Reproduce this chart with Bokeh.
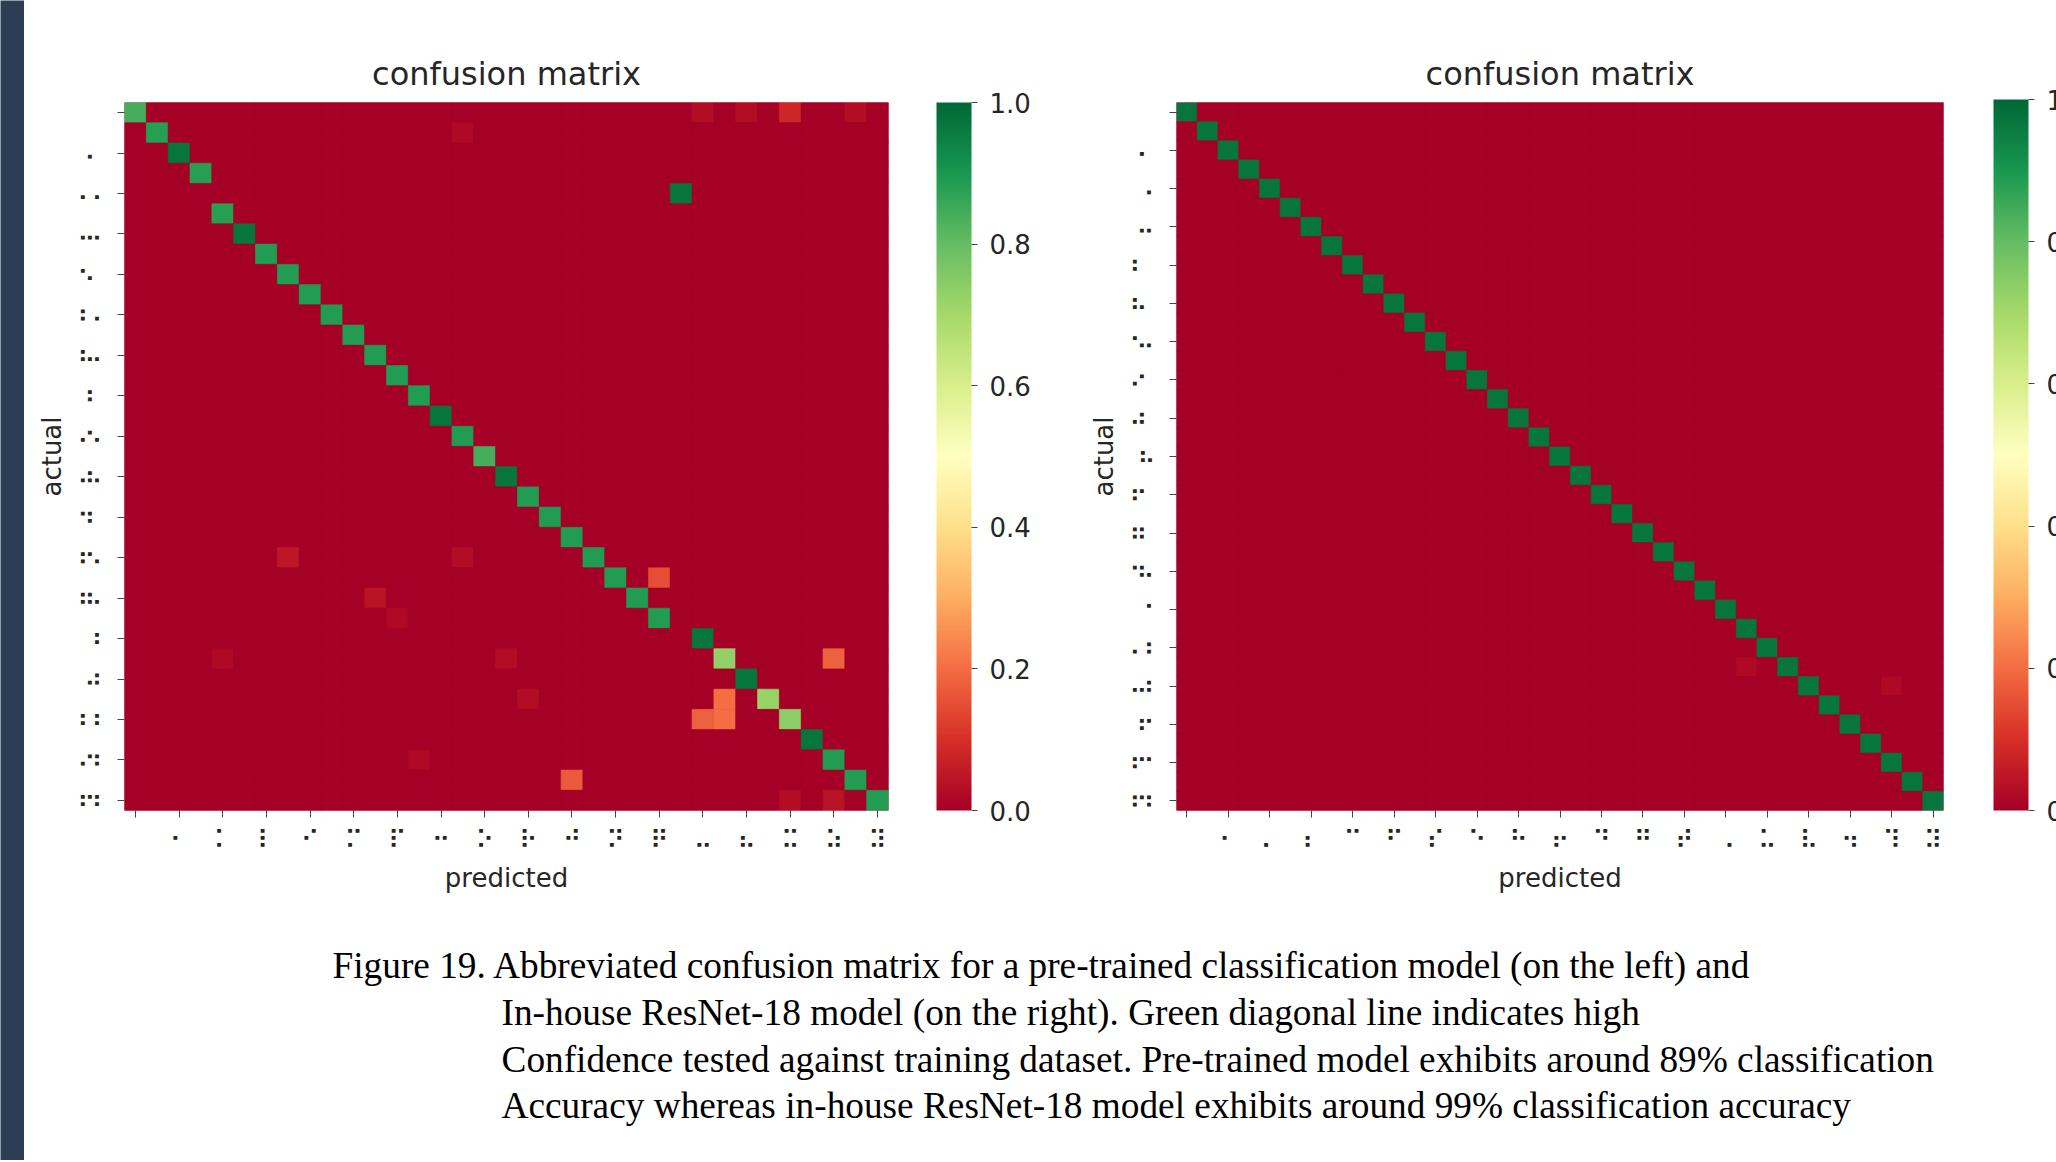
import numpy as np
from bokeh.plotting import figure
from bokeh.models import (Range1d, FixedTicker, LinearColorMapper, ColorBar,
                          ColumnDataSource, PrintfTickFormatter, Label)
from bokeh.layouts import row, column
from bokeh.embed import file_html
from bokeh.resources import INLINE

# ---------------- data ----------------
# class labels (braille cells), seaborn shows every other one
left_classes = ["\u2800", "\u2801", "\u2802", "\u2804", "\u2805", "\u2806", "\u2807",
                "\u2809", "\u280a", "\u280b", "\u280d", "\u280e", "\u280f", "\u2811",
                "\u2812", "\u2813", "\u2815", "\u2816", "\u2817", "\u2819", "\u281a",
                "\u281b", "\u281d", "\u281e", "\u281f", "\u2821", "\u2824", "\u2825",
                "\u2826", "\u2829", "\u282d", "\u2831", "\u2835", "\u2839", "\u283d"]
right_classes = ["\u2800", "\u2801", "\u2802", "\u2803", "\u2804", "\u2805", "\u2806",
                 "\u2807", "\u2809", "\u280a", "\u280b", "\u280c", "\u280e", "\u280f",
                 "\u2811", "\u2812", "\u2813", "\u2814", "\u2816", "\u2817", "\u2819",
                 "\u281a", "\u281b", "\u281c", "\u281e", "\u281f", "\u2820", "\u2822",
                 "\u2825", "\u2826", "\u2827", "\u282b", "\u2832", "\u2836", "\u2839",
                 "\u283b", "\u283d"]

# non-zero cells of the left (pre-trained) confusion matrix: actual row, predicted col, share
left_rows = [0, 1, 2, 3, 4, 5, 6, 7, 8, 9, 10, 11, 12, 13, 14, 15, 16, 17, 18, 19, 20,
             21, 22, 23, 23, 24, 25, 26, 27, 27, 28, 29, 29, 30, 30, 30, 31, 32, 33, 33, 34,
             0, 0, 0, 0, 1, 22, 22, 24, 25, 27, 27, 29, 32, 34, 34]
left_cols = [0, 1, 2, 3, 25, 4, 5, 6, 7, 8, 9, 10, 11, 12, 13, 14, 15, 16, 17, 18, 19,
             20, 21, 22, 24, 23, 24, 26, 27, 32, 28, 27, 29, 26, 27, 30, 31, 32, 20, 33, 34,
             26, 28, 30, 33, 15, 7, 15, 11, 12, 4, 17, 18, 13, 30, 32]
left_vals = [0.84, 0.88, 0.97, 0.88, 0.97, 0.88, 0.97, 0.89, 0.89, 0.89, 0.89, 0.89, 0.89,
             0.89, 0.89, 0.97, 0.89, 0.84, 0.97, 0.89, 0.89, 0.89, 0.89, 0.89, 0.15, 0.89,
             0.89, 0.97, 0.73, 0.18, 0.97, 0.20, 0.72, 0.18, 0.20, 0.74, 0.97, 0.89, 0.17,
             0.89, 0.89,
             0.03, 0.03, 0.08, 0.03, 0.02, 0.05, 0.03, 0.04, 0.02, 0.02, 0.03, 0.03, 0.02,
             0.03, 0.04]

# non-zero cells of the right (in-house ResNet-18) confusion matrix
right_rows = [0, 1, 2, 3, 4, 5, 6, 7, 8, 9, 10, 11, 12, 13, 14, 15, 16, 17, 18, 19, 20,
              21, 22, 23, 24, 25, 26, 27, 28, 29, 30, 31, 32, 33, 34, 35, 36, 29, 30]
right_cols = [0, 1, 2, 3, 4, 5, 6, 7, 8, 9, 10, 11, 12, 13, 14, 15, 16, 17, 18, 19, 20,
              21, 22, 23, 24, 25, 26, 27, 28, 29, 30, 31, 32, 33, 34, 35, 36, 27, 34]
right_vals = [0.97, 0.97, 0.97, 0.97, 0.97, 0.97, 0.97, 0.97, 0.97, 0.97, 0.97, 0.97,
              0.97, 0.97, 0.97, 0.97, 0.97, 0.97, 0.97, 0.97, 0.97, 0.97, 0.97, 0.97,
              0.97, 0.97, 0.97, 0.97, 0.97, 0.97, 0.97, 0.97, 0.97, 0.97, 0.97, 0.97,
              0.97, 0.02, 0.02]

colorbar_ticks = [0.0, 0.2, 0.4, 0.6, 0.8, 1.0]

caption_lines = [
    "Figure 19. Abbreviated confusion matrix for a pre-trained classification model (on the left) and",
    "In-house ResNet-18 model (on the right). Green diagonal line indicates high",
    "Confidence tested against training dataset. Pre-trained model exhibits around 89% classification",
    "Accuracy whereas in-house ResNet-18 model exhibits around 99% classification accuracy",
]

# ---------------- style ----------------
RDYLGN = ["#a50026", "#d73027", "#f46d43", "#fdae61", "#fee08b", "#ffffbf",
          "#d9ef8b", "#a6d96a", "#66bd63", "#1a9850", "#006837"]


def smooth_palette(anchors, n=256):
    rgb = np.array([[int(h[i:i + 2], 16) for i in (1, 3, 5)] for h in anchors], float)
    t = np.linspace(0, 1, len(anchors))
    out = []
    for x in np.linspace(0, 1, n):
        out.append("#%02x%02x%02x" % tuple(int(round(np.interp(x, t, rgb[:, k]))) for k in range(3)))
    return out


PALETTE = smooth_palette(RDYLGN)
TXT = "#262626"
FONT = "DejaVu Sans"


def make_heatmap(classes, rows, cols, vals, width, height, bl, br, bt, bb, cb_x, cb_h):
    n = len(classes)
    m = np.zeros((n, n))
    for r, c, v in zip(rows, cols, vals):
        m[r, c] = v
    rr, cc = np.meshgrid(np.arange(n), np.arange(n), indexing="ij")
    src = ColumnDataSource(dict(x=cc.ravel() + 0.5, y=rr.ravel() + 0.5, value=m.ravel()))
    mapper = LinearColorMapper(palette=PALETTE, low=0, high=1)

    p = figure(width=width, height=height, x_range=Range1d(0, n), y_range=Range1d(n, 0),
               output_backend="svg", toolbar_location=None, tools="",
               min_border_left=bl, min_border_right=br, min_border_top=bt, min_border_bottom=bb)
    p.background_fill_color = RDYLGN[0]
    p.border_fill_color = "white"
    p.outline_line_color = None
    p.grid.visible = False
    p.rect(x="x", y="y", width=1, height=1, source=src,
           fill_color={"field": "value", "transform": mapper},
           line_color={"field": "value", "transform": mapper}, line_width=0.6)

    ticks = [i + 0.5 for i in range(0, n, 2)]
    overrides = {t: classes[int(t - 0.5)] for t in ticks}
    for ax in (p.xaxis[0], p.yaxis[0]):
        ax.ticker = FixedTicker(ticks=ticks)
        ax.major_label_overrides = overrides
        ax.minor_tick_line_color = None
        ax.axis_line_color = None
        ax.major_tick_in = 0
        ax.major_tick_out = 7
        ax.major_tick_line_color = "#444444"
        ax.major_label_text_font = FONT
        ax.major_label_text_font_size = "26px"
        ax.major_label_text_color = TXT
        ax.axis_label_text_font = FONT
        ax.axis_label_text_font_size = "26px"
        ax.axis_label_text_font_style = "normal"
        ax.axis_label_text_color = TXT
    p.xaxis.major_label_standoff = 7
    p.yaxis.major_label_standoff = 10
    p.yaxis.axis_label_standoff = 8
    p.xaxis.axis_label = "predicted"
    p.yaxis.axis_label = "actual"
    p.yaxis.major_label_orientation = "vertical"

    p.title.text = "confusion matrix"
    p.title.text_font = FONT
    p.title.text_font_size = "32px"
    p.title.text_font_style = "normal"
    p.title.text_color = TXT
    p.title.align = "center"
    p.title.standoff = 20

    cb = ColorBar(color_mapper=mapper, ticker=FixedTicker(ticks=colorbar_ticks),
                  formatter=PrintfTickFormatter(format="%.1f"),
                  width=35, height=cb_h, location=(cb_x, 0), padding=0, margin=0,
                  bar_line_color=None, border_line_color=None, background_fill_alpha=0,
                  major_tick_in=0, major_tick_out=6, major_tick_line_color="#444444",
                  minor_tick_line_color=None, label_standoff=12,
                  major_label_text_font=FONT, major_label_text_font_size="26px",
                  major_label_text_color=TXT)
    p.add_layout(cb)
    return p


pA = make_heatmap(left_classes, left_rows, left_cols, left_vals,
                  1036, 920, 100, 172, 102, 110, 812, 708)
pB = make_heatmap(right_classes, right_rows, right_cols, right_vals,
                  996, 920, 116, 113, 99, 110, 817, 711)

side = figure(width=24, height=1160, min_border=0, x_axis_type=None, y_axis_type=None,
              toolbar_location=None, tools="", output_backend="svg")
side.background_fill_color = "#2c3e54"
side.border_fill_color = "#2c3e54"
side.outline_line_color = None

cap = figure(width=2032, height=240, x_range=Range1d(0, 2032), y_range=Range1d(0, 240),
             min_border=0, x_axis_type=None, y_axis_type=None,
             toolbar_location=None, tools="", output_backend="svg")
cap.outline_line_color = None
cap.grid.visible = False
cap_x = [308, 477, 477, 477]
cap_y = [195, 148, 101, 55]
for tx, x, y in zip(caption_lines, cap_x, cap_y):
    cap.add_layout(Label(x=x, y=y, text=tx, text_font="Liberation Serif",
                         text_font_size="37.3px", text_color="black",
                         text_baseline="alphabetic"))

layout = row(side, column(row(pA, pB), cap))
open("out.html", "w", encoding="utf-8").write(file_html(layout, INLINE))
